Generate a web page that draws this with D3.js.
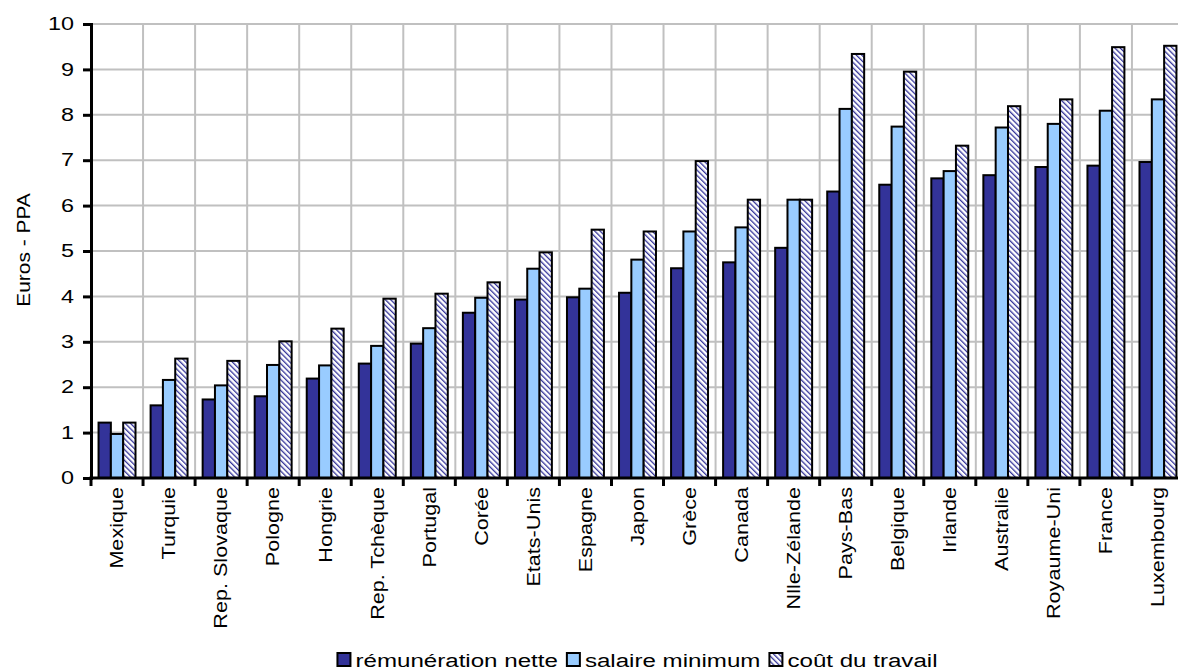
<!DOCTYPE html>
<html>
<head>
<meta charset="utf-8">
<script src="https://cdn.jsdelivr.net/npm/d3@7"></script>
<style>
  body { margin: 0; background: #fff; }
  text { font-family: "Liberation Sans", Arial, sans-serif; fill: #000; }
</style>
</head>
<body>
<svg id="chart" width="1178" height="671"></svg>
<script>
// Hourly pay levels (euros, PPP) by country
const countries = ["Mexique", "Turquie", "Rep. Slovaque", "Pologne", "Hongrie", "Rep. Tchèque",
  "Portugal", "Corée", "Etats-Unis", "Espagne", "Japon", "Grèce", "Canada", "Nlle-Zélande",
  "Pays-Bas", "Belgique", "Irlande", "Australie", "Royaume-Uni", "France", "Luxembourg"];
const remunerationNette = [1.22, 1.60, 1.73, 1.80, 2.19, 2.52, 2.96, 3.64, 3.93, 3.98, 4.08, 4.62,
  4.75, 5.07, 6.31, 6.46, 6.60, 6.67, 6.85, 6.88, 6.96];
const salaireMinimum = [0.97, 2.16, 2.04, 2.49, 2.48, 2.91, 3.30, 3.97, 4.61, 4.17, 4.81, 5.43,
  5.52, 6.13, 8.13, 7.74, 6.76, 7.72, 7.80, 8.09, 8.34];
const coutTravail = [1.22, 2.63, 2.58, 3.01, 3.29, 3.95, 4.06, 4.31, 4.97, 5.47, 5.43, 6.98,
  6.13, 6.13, 9.34, 8.95, 7.32, 8.19, 8.34, 9.49, 9.52];
const seriesNames = ["rémunération nette", "salaire minimum", "coût du travail"];
const yTicks = [0, 1, 2, 3, 4, 5, 6, 7, 8, 9, 10];
const yTitle = "Euros - PPA";

const seriesValues = [remunerationNette, salaireMinimum, coutTravail];
const fills = ["#333399", "#99ccff", "url(#hatch)"];

const svg = d3.select("#chart");
const W = 1178, H = 671;
const plot = { left: 91, right: 1184, top: 24, bottom: 478 };

const defs = svg.append("defs");
const pat = defs.append("pattern")
  .attr("id", "hatch")
  .attr("patternUnits", "userSpaceOnUse")
  .attr("width", 3.8).attr("height", 3.8)
  .attr("patternTransform", "rotate(-45)");
pat.append("rect").attr("width", 3.8).attr("height", 3.8).attr("fill", "#fff");
pat.append("rect").attr("width", 1.3).attr("height", 3.8).attr("fill", "#333399");

const x0 = d3.scaleBand()
  .domain(countries)
  .range([plot.left, plot.right])
  .paddingInner(0.29)
  .paddingOuter(0.145);
const x1 = d3.scaleBand()
  .domain(d3.range(seriesNames.length))
  .range([0, x0.bandwidth()]);
const y = d3.scaleLinear().domain([0, 10]).range([plot.bottom, plot.top]);
const step = x0.step();
const bounds = d3.range(countries.length + 1).map(i => plot.left + i * step);

// grid
const grid = svg.append("g");
grid.selectAll("line.h").data(yTicks.filter(d => d > 0)).join("line")
  .attr("x1", plot.left).attr("x2", W)
  .attr("y1", d => y(d)).attr("y2", d => y(d))
  .attr("stroke", "#c0c0c0").attr("stroke-width", 2);
grid.selectAll("line.v").data(bounds.slice(1)).join("line")
  .attr("x1", d => d).attr("x2", d => d)
  .attr("y1", plot.top).attr("y2", plot.bottom)
  .attr("stroke", "#c0c0c0").attr("stroke-width", 2);

// bars
const groups = svg.append("g").selectAll("g").data(countries).join("g")
  .attr("transform", d => `translate(${x0(d)},0)`);
groups.selectAll("rect")
  .data((c, i) => seriesValues.map((vals, s) => ({ s, v: vals[i] })))
  .join("rect")
  .attr("x", d => x1(d.s))
  .attr("width", x1.bandwidth())
  .attr("y", d => y(d.v))
  .attr("height", d => y(0) - y(d.v))
  .attr("fill", d => fills[d.s])
  .attr("stroke", "#000")
  .attr("stroke-width", 2);

// y axis
const tickStretch = 1.3;
const yAxis = svg.append("g")
  .attr("transform", `translate(${plot.left},0)`)
  .call(d3.axisLeft(y).tickValues(yTicks).tickSize(8).tickPadding(8));
yAxis.select(".domain").attr("stroke-width", 3);
yAxis.selectAll(".tick line").attr("stroke-width", 3);
yAxis.selectAll(".tick text")
  .attr("font-size", 18)
  .attr("font-family", null)
  .attr("x", -17 / tickStretch)
  .attr("transform", `scale(${tickStretch},1)`);

// x axis line with ticks at group boundaries
svg.append("line")
  .attr("x1", plot.left - 1.5).attr("x2", W)
  .attr("y1", plot.bottom).attr("y2", plot.bottom)
  .attr("stroke", "#000").attr("stroke-width", 3);
svg.append("g").selectAll("line").data(bounds).join("line")
  .attr("x1", d => d).attr("x2", d => d)
  .attr("y1", plot.bottom).attr("y2", plot.bottom + 8)
  .attr("stroke", "#000").attr("stroke-width", 3);

// category labels
const labelStretch = 1.2;
svg.append("g").selectAll("text").data(countries).join("text")
  .attr("transform", d => `translate(${x0(d) + x0.bandwidth() / 2},487) rotate(-90) scale(${labelStretch},1)`)
  .attr("text-anchor", "end")
  .attr("dy", "0.35em")
  .attr("font-size", 18)
  .text(d => d);

// y title
svg.append("text")
  .attr("transform", `translate(23,250) rotate(-90) scale(1.1,1)`)
  .attr("text-anchor", "middle")
  .attr("dy", "0.35em")
  .attr("font-size", 19)
  .text(yTitle);

// legend
const legendStretch = 1.27;
const legend = svg.append("g");
let cx = 0;
seriesNames.forEach((name, i) => {
  const g = legend.append("g");
  g.append("rect")
    .attr("x", 0).attr("y", -14)
    .attr("width", 13).attr("height", 13)
    .attr("fill", fills[i]).attr("stroke", "#000").attr("stroke-width", 2);
  const t = g.append("text")
    .attr("transform", `translate(18,0) scale(${legendStretch},1)`)
    .attr("font-size", 19)
    .text(name);
  const w = 18 + t.node().getComputedTextLength() * legendStretch;
  g.attr("transform", `translate(${cx},0)`);
  cx += w + 9;
});
const total = cx - 9;
legend.attr("transform", `translate(${637.5 - total / 2},667)`);
</script>
</body>
</html>
